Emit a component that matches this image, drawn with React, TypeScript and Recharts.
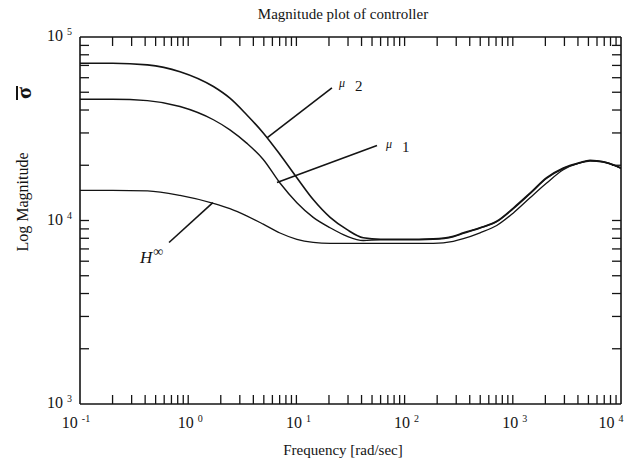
import React from "react";
import { LineChart, Line, XAxis, YAxis, ReferenceLine, ReferenceDot } from "recharts";

// frequency grid (rad/sec) shared by the three curves
const freq = [0.1, 0.2, 0.42, 0.84, 1.71, 2.43, 3.47, 4.94, 7.05, 10.1, 14.3, 20.5, 29.2, 41.5, 60, 100, 184, 282, 349, 498, 710, 1012, 1443, 2056, 2930, 4180, 5170, 6860, 8490, 10000];

const mu2 = [72000, 72000, 70500, 64700, 53700, 46400, 37700, 30000, 22900, 17100, 13000, 10400, 8940, 8050, 7900, 7900, 7950, 8200, 8570, 9130, 9910, 11700, 14100, 17100, 19300, 20700, 21300, 20900, 20100, 19300];
const mu1 = [45800, 45800, 45000, 41800, 35400, 31200, 26400, 21500, 16000, 12500, 10400, 9130, 8220, 7780, 7850, 7850, 7900, 8150, 8500, 9100, 9850, 11600, 14000, 17000, 19200, 20600, 21200, 20900, 20100, 19300];
const hInf = [14600, 14600, 14500, 13700, 12400, 11600, 10600, 9550, 8550, 7900, 7600, 7500, 7500, 7500, 7500, 7500, 7500, 7700, 7960, 8570, 9390, 11000, 13300, 16000, 18900, 20600, 21100, 20800, 20000, 19200];

const xDecades = [0.1, 1, 10, 100, 1000, 10000];
const yDecades = [1000, 10000, 100000];
const mantissas = [1, 2, 3, 4, 5, 6, 7, 8, 9];

// leader lines, in data units: [from freq, from mag, to freq, to mag]
const leaders = [
  [21.3, 52800, 5.35, 28200],
  [55.6, 25600, 6.62, 16100],
  [1.69, 12500, 0.665, 7590],
];
// curve labels: name, subscript, anchor freq, anchor mag
const curveLabels = [
  { name: "μ", sub: "2", f: 27, m: 54800 },
  { name: "μ", sub: "1", f: 73.3, m: 25600 },
  { name: "H", sub: "∞", f: 0.46, m: 6300 },
];

const data = freq.map((f, i) => ({ f, mu2: mu2[i], mu1: mu1[i], hinf: hInf[i] }));

const minorTicks = (decades: number[]) =>
  decades.slice(0, -1).flatMap((d) => mantissas.map((k) => +(d * k).toPrecision(3))).concat(decades[decades.length - 1]);

const xTicks = minorTicks(xDecades);
const yTicks = minorTicks(yDecades);

const FONT = "'Liberation Serif', 'DejaVu Serif', serif";
const INK = "#141414";
const TICK = 9;

const isDecade = (v: number) => Math.abs(Math.log10(v) - Math.round(Math.log10(v))) < 1e-6;
const expOf = (v: number) => Math.round(Math.log10(v));

const BottomTick = ({ x, y, payload }: any) => {
  const v = payload.value;
  const first = v === xDecades[0];
  const last = v === xDecades[xDecades.length - 1];
  const shift = first ? -4 : last ? -10 : 2;
  return (
    <g>
      {!first && !last && <line x1={x} x2={x} y1={y} y2={y - TICK} stroke={INK} strokeWidth={1.3} />}
      {isDecade(v) && (
        <text x={x + shift} y={y + 24} textAnchor="middle" fontFamily={FONT} fontSize={16} fill={INK}>
          10
          <tspan dx={4} dy={-6} fontSize={10}>
            {expOf(v)}
          </tspan>
        </text>
      )}
    </g>
  );
};

const TopTick = ({ x, y, payload }: any) => {
  const v = payload.value;
  if (v === xDecades[0] || v === xDecades[xDecades.length - 1]) return null;
  return <line x1={x} x2={x} y1={y} y2={y + TICK} stroke={INK} strokeWidth={1.3} />;
};

const LeftTick = ({ x, y, payload }: any) => {
  const v = payload.value;
  const edge = v === yDecades[0] || v === yDecades[yDecades.length - 1];
  return (
    <g>
      {!edge && <line x1={x} x2={x + TICK} y1={y} y2={y} stroke={INK} strokeWidth={1.3} />}
      {isDecade(v) && (
        <text x={x - 8} y={y + 4} textAnchor="end" fontFamily={FONT} fontSize={16} fill={INK}>
          10
          <tspan dx={4} dy={-6} fontSize={10}>
            {expOf(v)}
          </tspan>
        </text>
      )}
    </g>
  );
};

const RightTick = ({ x, y, payload }: any) => {
  const v = payload.value;
  if (v === yDecades[0] || v === yDecades[yDecades.length - 1]) return null;
  return <line x1={x} x2={x - TICK} y1={y} y2={y} stroke={INK} strokeWidth={1.3} />;
};

const CurveLabel = ({ cx, cy, name, sub }: any) => {
  if (name === "H") {
    return (
      <text x={cx} y={cy + 6} textAnchor="middle" fontFamily={FONT} fill={INK}>
        <tspan fontStyle="italic" fontSize={17}>H</tspan>
        <tspan dx={1} dy={-7} fontSize={14}>{sub}</tspan>
      </text>
    );
  }
  return (
    <text x={cx - 4} y={cy + 2} fontFamily={FONT} fill={INK}>
      <tspan fontStyle="italic" fontSize={12}>{name}</tspan>
      <tspan dx={10} dy={4} fontSize={15}>{sub}</tspan>
    </text>
  );
};

const axisLine = { stroke: INK, strokeWidth: 1.6 };

export default function App() {
  return (
    <div style={{ position: "absolute", left: 0, top: 0, width: 630, height: 467, background: "#fff" }}>
      <LineChart width={630} height={467} data={data} margin={{ top: 36, right: 8, bottom: 62, left: 79 }}>
        <XAxis
          xAxisId="b"
          dataKey="f"
          type="number"
          scale="log"
          domain={[0.1, 10000]}
          allowDataOverflow
          ticks={xTicks}
          interval={0}
          height={1}
          tickLine={false}
          tickSize={0}
          tickMargin={0}
          axisLine={axisLine}
          tick={<BottomTick />}
        />
        <XAxis
          xAxisId="t"
          orientation="top"
          dataKey="f"
          type="number"
          scale="log"
          domain={[0.1, 10000]}
          allowDataOverflow
          ticks={xTicks}
          interval={0}
          height={1}
          tickLine={false}
          tickSize={0}
          tickMargin={0}
          axisLine={axisLine}
          tick={<TopTick />}
        />
        <YAxis
          yAxisId="l"
          type="number"
          scale="log"
          domain={[1000, 100000]}
          allowDataOverflow
          ticks={yTicks}
          interval={0}
          width={1}
          tickLine={false}
          tickSize={0}
          tickMargin={0}
          axisLine={axisLine}
          tick={<LeftTick />}
        />
        <YAxis
          yAxisId="r"
          orientation="right"
          type="number"
          scale="log"
          domain={[1000, 100000]}
          allowDataOverflow
          ticks={yTicks}
          interval={0}
          width={1}
          tickLine={false}
          tickSize={0}
          tickMargin={0}
          axisLine={axisLine}
          tick={<RightTick />}
        />

        <Line xAxisId="b" yAxisId="l" type="monotone" dataKey="mu2" stroke={INK} strokeWidth={1.6} dot={false} isAnimationActive={false} />
        <Line xAxisId="b" yAxisId="l" type="monotone" dataKey="mu1" stroke={INK} strokeWidth={1.4} dot={false} isAnimationActive={false} />
        <Line xAxisId="b" yAxisId="l" type="monotone" dataKey="hinf" stroke={INK} strokeWidth={1.3} dot={false} isAnimationActive={false} />

        {leaders.map(([f1, m1, f2, m2], i) => (
          <ReferenceLine
            key={i}
            xAxisId="b"
            yAxisId="l"
            segment={[{ x: f1, y: m1 }, { x: f2, y: m2 }]}
            stroke={INK}
            strokeWidth={1.6}
            ifOverflow="visible"
          />
        ))}
        {curveLabels.map((c, i) => (
          <ReferenceDot
            key={i}
            xAxisId="b"
            yAxisId="l"
            x={c.f}
            y={c.m}
            r={0}
            ifOverflow="visible"
            shape={(p: any) => <CurveLabel cx={p.cx} cy={p.cy} name={c.name} sub={c.sub} />}
          />
        ))}

        <text x={343} y={19} textAnchor="middle" fontFamily={FONT} fontSize={15} fill={INK}>
          Magnitude plot of controller
        </text>
        <text x={343} y={455} textAnchor="middle" fontFamily={FONT} fontSize={15} fill={INK}>
          Frequency [rad/sec]
        </text>
        <text x={28} y={202} transform="rotate(-90 28 202)" textAnchor="middle" fontFamily={FONT} fontSize={16} fill={INK}>
          Log Magnitude
        </text>
        <text x={31} y={93} transform="rotate(-90 31 93)" textAnchor="middle" fontFamily={FONT} fontSize={22} fontWeight="bold" fill={INK}>
          σ
        </text>
        <line x1={17} x2={17} y1={86} y2={100} stroke={INK} strokeWidth={2} />
      </LineChart>
    </div>
  );
}
